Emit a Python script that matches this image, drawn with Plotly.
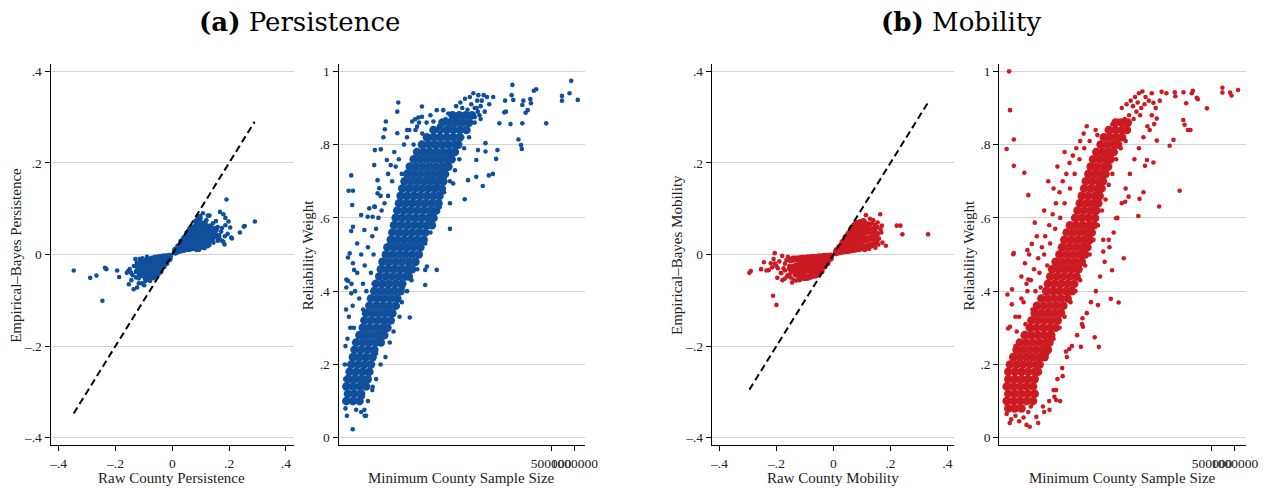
import plotly.graph_objects as go

BLUE = "#0f4f9c"
RED = "#cc1a22"
FONT = "Liberation Serif"
TITLE_FONT = "DejaVu Serif"

# ---------------- Panel (a) left: Raw vs Empirical-Bayes persistence ----------------
pers_core = [
    (0.010, 0.005), (0.012, 0.010), (0.020, 0.008), (0.022, 0.017), (0.030, 0.010), (0.031, 0.020),
    (0.033, 0.028), (0.040, 0.011), (0.041, 0.022), (0.043, 0.035), (0.050, 0.013), (0.051, 0.025),
    (0.052, 0.038), (0.055, 0.047), (0.060, 0.013), (0.061, 0.027), (0.062, 0.041), (0.064, 0.055),
    (0.070, 0.015), (0.071, 0.029), (0.072, 0.043), (0.074, 0.058), (0.080, 0.017), (0.081, 0.031),
    (0.082, 0.046), (0.083, 0.061), (0.086, 0.072), (0.090, 0.019), (0.091, 0.033), (0.092, 0.049),
    (0.093, 0.064), (0.095, 0.079), (0.100, 0.021), (0.101, 0.036), (0.102, 0.051), (0.103, 0.066),
    (0.110, 0.023), (0.111, 0.039), (0.112, 0.053), (0.113, 0.067), (0.120, 0.027), (0.121, 0.041),
    (0.122, 0.056), (0.130, 0.031), (0.131, 0.046), (0.132, 0.060), (0.140, 0.036), (0.142, 0.051),
    (0.150, 0.041), (0.152, 0.055),
    (-0.010, -0.004), (-0.011, -0.009), (-0.020, -0.005), (-0.021, -0.012), (-0.022, -0.018),
    (-0.030, -0.005), (-0.031, -0.015), (-0.032, -0.025), (-0.040, -0.006), (-0.041, -0.017),
    (-0.042, -0.028), (-0.043, -0.036), (-0.050, -0.007), (-0.051, -0.018), (-0.052, -0.030),
    (-0.053, -0.042), (-0.060, -0.008), (-0.061, -0.020), (-0.062, -0.032), (-0.063, -0.045),
    (-0.070, -0.010), (-0.071, -0.022), (-0.072, -0.034), (-0.073, -0.046), (-0.080, -0.012),
    (-0.081, -0.024), (-0.082, -0.036), (-0.083, -0.048), (-0.090, -0.014), (-0.091, -0.026),
    (-0.092, -0.038), (-0.093, -0.050), (-0.100, -0.016), (-0.101, -0.028), (-0.102, -0.040),
    (-0.110, -0.020), (-0.111, -0.032), (-0.112, -0.044), (-0.120, -0.025), (-0.121, -0.036),
]
pers_sparse = [
    (-0.347, -0.035), (-0.289, -0.051), (-0.267, -0.046), (-0.246, -0.101), (-0.237, -0.029),
    (-0.232, -0.032), (-0.194, -0.035), (-0.187, -0.049), (-0.155, -0.036), (-0.150, -0.032),
    (-0.153, -0.065), (-0.144, -0.056), (-0.136, -0.076), (-0.130, -0.010), (-0.124, -0.072),
    (-0.118, -0.063), (-0.107, -0.063), (-0.099, -0.067), (-0.089, -0.005), (-0.078, -0.058),
    (-0.072, -0.045), (-0.089, -0.034), (-0.140, -0.045), (-0.135, -0.025), (-0.128, -0.050),
    (-0.115, -0.010), (-0.105, -0.008), (-0.128, -0.038), (-0.145, -0.040), (-0.118, -0.052),
    (-0.095, -0.058), (-0.085, -0.055), (-0.065, -0.052), (-0.160, -0.040), (-0.125, -0.018),
    (0.191, 0.120), (0.168, 0.093), (0.180, 0.088), (0.187, 0.080), (0.198, 0.072), (0.204, 0.059),
    (0.187, 0.064), (0.252, 0.061), (0.238, 0.048), (0.208, 0.037), (0.184, 0.022), (0.180, 0.028),
    (0.154, 0.073), (0.131, 0.085), (0.108, 0.090), (0.137, 0.057), (0.152, 0.046), (0.166, 0.035),
    (0.143, 0.035), (0.131, 0.021), (0.085, 0.010), (0.114, 0.014), (0.291, 0.072), (0.210, 0.035),
    (0.255, 0.062), (0.125, 0.085), (0.143, 0.068), (0.154, 0.053), (0.160, 0.060), (0.172, 0.050),
    (0.165, 0.042), (0.175, 0.058), (0.120, 0.075), (0.098, 0.084), (0.094, 0.010), (0.160, 0.030),
    (0.145, 0.026), (0.195, 0.045), (0.185, 0.040), (0.175, 0.030), (0.105, 0.015), (0.125, 0.018),
]
pers_line = [-0.347, 0.290]

# ---------------- Panel (a) right: sample size vs reliability (persistence) ----------------
# dense band, read row by row: (reliability weight, [sample sizes])
pers_rel_rows = [
    (0.10, [1160, 1408, 1711]),
    (0.12, [1216, 1478, 1797]),
    (0.14, [1160, 1408, 1711, 2080]),
    (0.16, [1216, 1478, 1797, 2184]),
    (0.18, [1277, 1552, 1887, 2293]),
    (0.20, [1341, 1630, 1981, 2407]),
    (0.22, [1408, 1711, 2080, 2528]),
    (0.24, [1478, 1797, 2184, 2654]),
    (0.26, [1552, 1887, 2293, 2787, 3225]),
    (0.28, [1711, 2080, 2528, 3072, 3556]),
    (0.30, [1887, 2293, 2787, 3387, 3920]),
    (0.32, [1981, 2407, 2926, 3556, 4321]),
    (0.34, [2080, 2528, 3072, 3734, 4538]),
    (0.36, [2293, 2787, 3387, 4116, 5003]),
    (0.38, [2407, 2926, 3556, 4321, 5252]),
    (0.40, [2654, 3225, 3920, 4764, 5789]),
    (0.42, [2787, 3387, 4116, 5003, 6080]),
    (0.44, [3072, 3734, 4538, 5515, 6703, 7389]),
    (0.46, [3225, 3920, 4764, 5789, 7036, 8146]),
    (0.48, [3387, 4116, 5003, 6080, 7389, 8980]),
    (0.50, [3734, 4538, 5515, 6703, 8146, 9900]),
    (0.52, [3920, 4764, 5789, 7036, 8551, 10391]),
    (0.54, [4321, 5252, 6382, 7756, 9426, 11455]),
    (0.56, [4538, 5515, 6703, 8146, 9900, 12032]),
    (0.58, [4764, 5789, 7036, 8551, 10391, 12628, 14624]),
    (0.60, [5003, 6080, 7389, 8980, 10914, 13265, 15347]),
    (0.62, [5252, 6382, 7756, 9426, 11455, 13922, 16600]),
    (0.64, [5515, 6703, 8146, 9900, 12032, 14624, 17773]),
    (0.66, [5789, 7036, 8551, 10391, 12628, 15347, 18300]),
    (0.68, [6080, 7389, 8980, 10914, 13265, 16122, 19594]),
    (0.70, [6500, 7900, 9600, 11700, 14200, 17200, 20562]),
    (0.72, [7036, 8551, 10391, 12628, 15347, 18652, 21601]),
    (0.74, [7600, 9250, 11200, 13650, 16600, 20150, 23813]),
    (0.76, [8551, 10391, 12628, 15347, 18652, 22668, 26252]),
    (0.78, [9426, 11455, 13922, 16919, 20562, 24989, 28941]),
    (0.80, [10914, 13265, 16122, 19594, 23813, 28941, 31905]),
    (0.82, [12628, 15347, 18652, 22668, 27548, 33479]),
    (0.84, [15347, 18652, 22668, 27548, 33479, 40687]),
    (0.86, [20000, 24500, 29500, 36000, 44000]),
    (0.88, [27000, 33000, 40000, 48000]),
]
pers_rel_sparse = [
    (907000, 0.974), (863000, 0.940), (690000, 0.933), (690000, 0.920), (1100000, 0.922),
    (432000, 0.858), (321000, 0.951), (300000, 0.947), (270000, 0.924), (275000, 0.913),
    (220000, 0.920), (213000, 0.908), (250000, 0.894), (235000, 0.887), (213000, 0.858),
    (190000, 0.814), (205000, 0.799), (210000, 0.788), (163000, 0.922), (159000, 0.963),
    (155000, 0.935), (150000, 0.856), (128000, 0.920), (131000, 0.890), (125000, 0.888),
    (108000, 0.858), (102000, 0.785), (98000, 0.761), (89000, 0.720), (79000, 0.716),
    (66000, 0.687), (54500, 0.712), (38700, 0.651), (71600, 0.804), (71600, 0.781),
    (54500, 0.758), (57300, 0.785), (42700, 0.703), (27500, 0.694), (25000, 0.640),
    (25000, 0.570), (16900, 0.458), (12000, 0.458), (12000, 0.417), (12600, 0.467),
    (7600, 0.328), (5400, 0.915), (5250, 0.890), (3740, 0.863), (3630, 0.842), (3480, 0.820),
    (3225, 0.787), (2700, 0.785), (2650, 0.744), (1341, 0.716), (1240, 0.674), (1410, 0.674),
    (1380, 0.635), (1410, 0.576), (1341, 0.564), (1216, 0.492), (1280, 0.503), (1410, 0.476),
    (1460, 0.458), (1160, 0.432), (1220, 0.428), (1160, 0.410), (1341, 0.394), (1600, 0.530),
    (1797, 0.608), (1981, 0.567), (2184, 0.603), (2290, 0.626), (2926, 0.703), (3070, 0.681),
    (2926, 0.667), (2654, 0.631), (2530, 0.603), (3850, 0.758), (4321, 0.744), (5250, 0.831),
    (7036, 0.840), (8150, 0.863), (8900, 0.869), (10900, 0.904), (9426, 0.849), (10900, 0.876),
    (9800, 0.874), (15300, 0.863), (16900, 0.894), (20500, 0.894), (23800, 0.885),
    (1400, 0.023), (1981, 0.076), (2080, 0.060), (2530, 0.139), (1550, 0.076), (1890, 0.112),
    (1300, 0.300), (1250, 0.330), (1400, 0.360), (1500, 0.400), (1350, 0.420), (1700, 0.380),
    (1600, 0.450), (1900, 0.420), (2000, 0.470), (1800, 0.500), (2200, 0.520), (2400, 0.450),
    (2100, 0.400), (2600, 0.500), (2500, 0.550), (2800, 0.570), (3000, 0.600), (3300, 0.620),
    (2700, 0.630), (3600, 0.640), (4000, 0.660), (3200, 0.660), (4500, 0.700), (4000, 0.720),
    (5000, 0.740), (5500, 0.760), (6000, 0.720), (4800, 0.780), (6400, 0.800), (7000, 0.820),
    (7500, 0.840), (8500, 0.800), (9000, 0.840), (10000, 0.860), (11000, 0.830), (12500, 0.860),
    (14000, 0.880), (1200, 0.270), (1450, 0.300), (1150, 0.350), (1700, 0.280), (1900, 0.350),
    (2300, 0.360), (2600, 0.420), (2200, 0.100), (2500, 0.130), (2800, 0.160), (3200, 0.200),
    (3700, 0.220), (4200, 0.260), (4700, 0.290), (5600, 0.330), (6000, 0.370), (7000, 0.400),
    (8000, 0.430), (9500, 0.460), (10500, 0.500), (12000, 0.530), (14000, 0.560), (16000, 0.600),
    (18500, 0.630), (21000, 0.670), (25000, 0.700), (29000, 0.730), (33000, 0.760), (38000, 0.790),
    (44000, 0.820), (52000, 0.860), (60000, 0.880), (70000, 0.890), (80000, 0.910), (90000, 0.930),
    (1800, 0.070), (2000, 0.060), (1130, 0.080), (1180, 0.060), (1550, 0.100), (1900, 0.150),
    (2400, 0.180), (1120, 0.160), (1110, 0.200), (1130, 0.250), (2800, 0.230), (3300, 0.260),
    (3900, 0.300), (4600, 0.340), (5300, 0.360), (6200, 0.410), (6900, 0.460), (8200, 0.500),
    (9200, 0.540), (11000, 0.580), (12600, 0.600), (14500, 0.640), (17000, 0.690), (19600, 0.700),
    (22000, 0.740), (24000, 0.780), (26500, 0.800), (30000, 0.800), (36000, 0.820), (40000, 0.840),
    (48000, 0.880), (55000, 0.900), (64000, 0.920), (75000, 0.930), (62000, 0.870),
    (30000, 0.905), (34000, 0.915), (39000, 0.925), (45000, 0.930), (50000, 0.940), (56000, 0.920),
    (62000, 0.905), (68000, 0.935), (42000, 0.895), (47000, 0.910), (52000, 0.900), (58000, 0.935),
    (36000, 0.900), (26000, 0.880), (31000, 0.870), (38000, 0.875), (44000, 0.880), (22000, 0.870),
    (18000, 0.850), (52000, 0.875), (57000, 0.890),
]

# ---------------- Panel (b) left: Raw vs Empirical-Bayes mobility ----------------
mob_core = [
    (0.010, 0.004), (0.012, 0.009), (0.020, 0.006), (0.022, 0.016), (0.030, 0.007), (0.031, 0.016),
    (0.033, 0.026), (0.040, 0.008), (0.041, 0.018), (0.042, 0.030), (0.044, 0.037), (0.050, 0.009),
    (0.051, 0.020), (0.052, 0.032), (0.054, 0.045), (0.060, 0.010), (0.061, 0.022), (0.062, 0.035),
    (0.063, 0.050), (0.065, 0.057), (0.070, 0.011), (0.071, 0.024), (0.072, 0.038), (0.073, 0.052),
    (0.075, 0.064), (0.080, 0.012), (0.081, 0.026), (0.082, 0.040), (0.083, 0.055), (0.085, 0.068),
    (0.090, 0.013), (0.091, 0.028), (0.092, 0.042), (0.093, 0.056), (0.095, 0.070), (0.100, 0.015),
    (0.101, 0.030), (0.102, 0.045), (0.103, 0.060), (0.105, 0.072), (0.110, 0.016), (0.111, 0.032),
    (0.112, 0.048), (0.113, 0.062), (0.120, 0.018), (0.121, 0.034), (0.122, 0.050), (0.123, 0.065),
    (0.130, 0.020), (0.131, 0.036), (0.132, 0.052), (0.140, 0.022), (0.141, 0.040), (0.142, 0.055),
    (0.150, 0.030), (0.151, 0.045),
    (-0.010, -0.003), (-0.011, -0.008), (-0.020, -0.004), (-0.021, -0.012), (-0.022, -0.018),
    (-0.030, -0.004), (-0.031, -0.014), (-0.032, -0.025), (-0.040, -0.005), (-0.041, -0.016),
    (-0.042, -0.028), (-0.043, -0.036), (-0.050, -0.005), (-0.051, -0.017), (-0.052, -0.030),
    (-0.053, -0.042), (-0.060, -0.006), (-0.061, -0.018), (-0.062, -0.030), (-0.063, -0.045),
    (-0.070, -0.006), (-0.071, -0.018), (-0.072, -0.032), (-0.073, -0.046), (-0.080, -0.007),
    (-0.081, -0.020), (-0.082, -0.033), (-0.083, -0.048), (-0.090, -0.007), (-0.091, -0.020),
    (-0.092, -0.034), (-0.093, -0.050), (-0.100, -0.008), (-0.101, -0.022), (-0.102, -0.036),
    (-0.103, -0.050), (-0.110, -0.008), (-0.111, -0.022), (-0.112, -0.036), (-0.113, -0.050),
    (-0.120, -0.009), (-0.121, -0.024), (-0.122, -0.038), (-0.130, -0.010), (-0.131, -0.025),
    (-0.132, -0.040), (-0.140, -0.010), (-0.141, -0.028), (-0.150, -0.012), (-0.151, -0.030),
]
mob_sparse = [
    (-0.295, -0.040), (-0.290, -0.036), (-0.254, -0.032), (-0.244, -0.017), (-0.235, -0.035),
    (-0.227, -0.034), (-0.212, -0.090), (-0.200, -0.110), (-0.220, -0.019), (-0.206, 0.003),
    (-0.197, -0.051), (-0.179, -0.056), (-0.183, -0.041), (-0.171, -0.053), (-0.163, -0.048),
    (-0.145, -0.061), (-0.131, -0.057), (-0.119, -0.056), (-0.108, -0.048), (-0.180, -0.003),
    (-0.190, -0.015), (-0.200, -0.025), (-0.170, -0.020), (-0.160, -0.045), (-0.150, -0.040),
    (-0.140, -0.055), (-0.175, -0.030), (-0.165, -0.012), (-0.155, -0.025), (-0.185, -0.040),
    (-0.210, -0.010), (-0.205, -0.020), (-0.160, -0.005), (-0.170, -0.035), (-0.195, -0.030),
    (-0.215, -0.028), (-0.150, -0.050), (-0.125, -0.048), (-0.135, -0.045),
    (0.164, 0.088), (0.114, 0.086), (0.222, 0.063), (0.235, 0.063), (0.242, 0.044), (0.332, 0.044),
    (0.184, 0.019), (0.172, 0.026), (0.147, 0.015), (0.168, 0.048), (0.170, 0.063), (0.155, 0.070),
    (0.140, 0.075), (0.128, 0.078), (0.160, 0.035), (0.165, 0.055), (0.155, 0.060), (0.125, 0.012),
    (0.110, 0.010), (0.158, 0.022), (0.145, 0.065), (0.135, 0.068),
]
mob_line = [-0.295, 0.334]

# ---------------- Panel (b) right: sample size vs reliability (mobility) ----------------
mob_rel_rows = [
    (0.08, [1006, 1230, 1504]),
    (0.10, [957, 1170, 1430, 1749, 2138]),
    (0.12, [1006, 1230, 1504, 1839, 2248]),
    (0.14, [957, 1170, 1430, 1749, 2138]),
    (0.16, [1006, 1230, 1504, 1839, 2248]),
    (0.18, [1006, 1230, 1504, 1839, 2248, 2486]),
    (0.20, [1058, 1293, 1581, 1933, 2364, 2614]),
    (0.22, [1170, 1430, 1749, 2138, 2614, 3039]),
    (0.24, [1293, 1581, 1933, 2364, 2890, 3361]),
    (0.26, [1430, 1749, 2138, 2614, 3196, 3533]),
    (0.28, [1662, 2033, 2486, 3039, 3715]),
    (0.30, [1933, 2364, 2890, 3533, 4250]),
    (0.32, [2033, 2486, 3039, 3715, 4543]),
    (0.34, [2248, 2749, 3361, 4108, 5023]),
    (0.36, [2410, 2950, 3610, 4410, 5390]),
    (0.38, [2749, 3361, 4108, 5023, 6141]),
    (0.40, [3196, 3907, 4777, 5840, 7000]),
    (0.42, [3361, 4108, 5023, 6141, 7508]),
    (0.44, [3610, 4410, 5390, 6590, 8050]),
    (0.46, [3830, 4680, 5720, 7000, 8560]),
    (0.48, [4250, 5170, 6330, 7730, 9440]),
    (0.50, [4777, 5840, 7140, 8729, 10460]),
    (0.52, [5170, 6330, 7730, 9440, 11222]),
    (0.54, [5554, 6790, 8301, 10149, 12050]),
    (0.56, [5960, 7290, 8910, 10890, 12780]),
    (0.58, [6590, 8050, 9850, 12050, 13719]),
    (0.60, [7730, 9440, 11560, 14140]),
    (0.62, [8301, 10149, 12408, 14720]),
    (0.64, [8910, 10890, 13330, 15630]),
    (0.66, [9440, 11560, 14140, 16290]),
    (0.68, [10149, 12408, 15170, 17280]),
    (0.70, [10672, 13047, 15951, 18000]),
    (0.72, [11560, 14140, 17280, 19501]),
    (0.74, [12408, 15170, 18546, 21110]),
    (0.76, [13330, 16290, 19920, 22673]),
    (0.78, [14720, 18000, 22020, 25070]),
    (0.80, [16773, 20505, 25070, 28500]),
    (0.82, [18546, 22673, 27720, 32230]),
    (0.84, [21563, 26362, 32230, 37470]),
    (0.86, [26500, 32000, 38500]),
]
mob_rel_sparse = [
    (1030, 1.000), (1060, 0.894), (1190, 0.814), (957, 0.788), (1190, 0.742), (1640, 0.723),
    (1850, 0.662), (2250, 0.587), (1170, 0.501), (1190, 0.504), (1800, 0.512), (2060, 0.529),
    (1670, 0.476), (1850, 0.432), (1130, 0.405), (980, 0.391), (1120, 0.364), (1000, 0.298),
    (1060, 0.303), (690000, 0.955), (690000, 0.942), (870000, 0.942), (910000, 0.934),
    (1110000, 0.949), (430000, 0.899), (315000, 0.928), (325000, 0.924), (270000, 0.940),
    (280000, 0.947), (210000, 0.943), (228000, 0.913), (209000, 0.867), (217000, 0.854),
    (240000, 0.840), (260000, 0.840), (187000, 0.674), (155000, 0.813), (138000, 0.797),
    (164000, 0.932), (161000, 0.943), (125000, 0.940), (108000, 0.944), (102000, 0.920),
    (84000, 0.914), (93000, 0.871), (93000, 0.811), (86000, 0.856), (75000, 0.840), (84000, 0.751),
    (69000, 0.758), (65000, 0.742), (62000, 0.670), (55000, 0.652), (53000, 0.605), (100000, 0.631),
    (39400, 0.658), (35600, 0.644), (34000, 0.490), (26900, 0.599), (23800, 0.457), (29100, 0.369),
    (22900, 0.379), (15500, 0.362), (15900, 0.248), (18200, 0.540), (18200, 0.508), (21500, 0.540),
    (14000, 0.274), (9800, 0.303), (9650, 0.326), (9200, 0.248), (6460, 0.242), (5840, 0.235),
    (5280, 0.168), (4890, 0.100), (4320, 0.130), (4100, 0.112),
    (1400, 0.330), (1600, 0.370), (1800, 0.400), (2000, 0.430), (2200, 0.460), (2500, 0.490),
    (2800, 0.520), (3100, 0.550), (3500, 0.580), (3900, 0.610), (4300, 0.640), (4800, 0.670),
    (5300, 0.700), (5900, 0.720), (6500, 0.750), (7200, 0.770), (8000, 0.790), (9000, 0.810),
    (10000, 0.830), (11000, 0.850), (3000, 0.620), (4000, 0.680), (3400, 0.700), (4500, 0.740),
    (5600, 0.780), (2400, 0.550), (1900, 0.500), (1500, 0.440), (1300, 0.290), (1250, 0.250),
    (2100, 0.350), (2700, 0.410), (3300, 0.470), (1700, 0.310), (14400, 0.840), (15200, 0.826),
    (2500, 0.040), (3000, 0.070), (3500, 0.100), (4000, 0.130), (4500, 0.160), (5200, 0.190),
    (6000, 0.220), (7000, 0.250), (8200, 0.280), (9500, 0.310), (11000, 0.340), (12500, 0.370),
    (14500, 0.400), (16500, 0.440), (19000, 0.480), (22000, 0.520), (25000, 0.560), (28000, 0.600),
    (32000, 0.640), (36000, 0.680), (41000, 0.720), (47000, 0.760), (54000, 0.790), (62000, 0.820),
    (70000, 0.850), (80000, 0.880), (90000, 0.900), (2364, 0.057), (1933, 0.030), (2890, 0.085),
    (3533, 0.076), (4320, 0.103), (2700, 0.200), (3300, 0.230), (4000, 0.270), (4800, 0.300),
    (5600, 0.330), (6700, 0.370), (7800, 0.400), (9000, 0.430), (10500, 0.470), (12000, 0.500),
    (13500, 0.540), (15500, 0.580), (17500, 0.620), (19500, 0.650), (21500, 0.690), (24000, 0.720),
    (27000, 0.760), (31000, 0.790), (36000, 0.810), (1250, 0.330), (1500, 0.380), (1750, 0.420),
    (2300, 0.400), (2600, 0.450), (3000, 0.500), (3600, 0.530), (4200, 0.570), (4900, 0.600),
    (5600, 0.640), (6600, 0.680), (7600, 0.720), (8800, 0.760), (10200, 0.790), (12000, 0.810),
    (957, 0.065), (1100, 0.050), (1250, 0.060), (1400, 0.045), (1600, 0.055), (1750, 0.035),
    (1050, 0.040), (1850, 0.070), (2000, 0.085), (1180, 0.075),
    (32000, 0.900), (37000, 0.910), (42000, 0.920), (48000, 0.930), (54000, 0.940), (60000, 0.945),
    (66000, 0.930), (73000, 0.920), (80000, 0.940), (45000, 0.905), (52000, 0.915), (58000, 0.900),
    (64000, 0.910), (40000, 0.880), (46000, 0.870), (35000, 0.870), (29000, 0.865), (50000, 0.890),
    (56000, 0.880), (24000, 0.855),
]

ev_ticks = [-0.4, -0.2, 0, 0.2, 0.4]
ev_ticktext = ["\u2013.4", "\u2013.2", "0", ".2", ".4"]
rel_ticks = [0, 0.2, 0.4, 0.6, 0.8, 1]
rel_ticktext = ["0", ".2", ".4", ".6", ".8", "1"]
size_ticks = [500000, 1000000]
size_ticktext = ["500000", "1000000"]


def unzip(pts):
    return [p[0] for p in pts], [p[1] for p in pts]


def flatten_rows(rows):
    xs, ys = [], []
    for yv, xlist in rows:
        for xv in xlist:
            xs.append(xv)
            ys.append(yv)
    return xs, ys


fig = go.Figure()

SPARSE = 4.6

panels = [
    ("x", "y", unzip(pers_core), pers_sparse, BLUE, 7),
    ("x2", "y2", flatten_rows(pers_rel_rows), pers_rel_sparse, BLUE, 8.6),
    ("x3", "y3", unzip(mob_core), mob_sparse, RED, 7),
    ("x4", "y4", flatten_rows(mob_rel_rows), mob_rel_sparse, RED, 8.6),
]
for xa, ya, (cx, cy), sparse, col, csize in panels:
    sx, sy = unzip(sparse)
    fig.add_trace(go.Scatter(x=cx, y=cy, xaxis=xa, yaxis=ya, mode="markers",
                             marker=dict(color=col, size=csize, line=dict(width=0)),
                             showlegend=False, hoverinfo="skip"))
    fig.add_trace(go.Scatter(x=sx, y=sy, xaxis=xa, yaxis=ya, mode="markers",
                             marker=dict(color=col, size=SPARSE, line=dict(width=0)),
                             showlegend=False, hoverinfo="skip"))

for xa, ya, ln in [("x", "y", pers_line), ("x3", "y3", mob_line)]:
    fig.add_trace(go.Scatter(x=ln, y=ln, xaxis=xa, yaxis=ya, mode="lines",
                             line=dict(color="black", width=2, dash="7px,4px"),
                             showlegend=False, hoverinfo="skip"))

W, H = 1276, 489


def px_x(p):
    return p / W


def px_y(p):
    return 1 - p / H


ydom = [px_y(445.3), px_y(64)]
tickfont = dict(family=FONT, size=13.5, color="#222222")
common_x = dict(showline=True, linecolor="black", linewidth=1.3, ticks="outside", ticklen=5,
                tickwidth=1, tickcolor="black", showgrid=False, zeroline=False, tickfont=tickfont,
                tickangle=0)
common_y = dict(showline=True, linecolor="black", linewidth=1.3, ticks="outside", ticklen=5,
                tickwidth=1, tickcolor="black", showgrid=True, gridcolor="#d4d4d4", gridwidth=1,
                zeroline=False, tickfont=tickfont)

fig.update_layout(
    width=W, height=H,
    margin=dict(l=0, r=0, t=0, b=0),
    paper_bgcolor="white", plot_bgcolor="white",
    font=dict(family=FONT, color="#222222"),
    xaxis=dict(domain=[px_x(49.3), px_x(295)], range=[-0.428, 0.427], anchor="y",
               tickvals=ev_ticks, ticktext=ev_ticktext, **common_x),
    yaxis=dict(domain=ydom, range=[-0.4166, 0.416], anchor="x",
               tickvals=ev_ticks, ticktext=ev_ticktext, **common_y),
    xaxis2=dict(domain=[px_x(340.7), px_x(590)], type="log", range=[2.966, 6.136], anchor="y2",
                tickvals=size_ticks, ticktext=size_ticktext, **common_x),
    yaxis2=dict(domain=ydom, range=[-0.0207, 1.02], anchor="x2",
                tickvals=rel_ticks, ticktext=rel_ticktext, **common_y),
    xaxis3=dict(domain=[px_x(718.3), px_x(963.3)], range=[-0.4267, 0.423], anchor="y3",
                tickvals=ev_ticks, ticktext=ev_ticktext, **common_x),
    yaxis3=dict(domain=ydom, range=[-0.4166, 0.416], anchor="x3",
                tickvals=ev_ticks, ticktext=ev_ticktext, **common_y),
    xaxis4=dict(domain=[px_x(1009.3), px_x(1259)], type="log", range=[2.885, 6.153], anchor="y4",
                tickvals=size_ticks, ticktext=size_ticktext, **common_x),
    yaxis4=dict(domain=ydom, range=[-0.0207, 1.02], anchor="x4",
                tickvals=rel_ticks, ticktext=rel_ticktext, **common_y),
)

annots = []
annots.append(dict(text="<b>(a)</b> Persistence", x=px_x(301), y=px_y(22), xref="paper", yref="paper",
                   showarrow=False, font=dict(family=TITLE_FONT, size=26, color="black"),
                   xanchor="center", yanchor="middle"))
annots.append(dict(text="<b>(b)</b> Mobility", x=px_x(970), y=px_y(22), xref="paper", yref="paper",
                   showarrow=False, font=dict(family=TITLE_FONT, size=26, color="black"),
                   xanchor="center", yanchor="middle"))
for txt, cx in [("Raw County Persistence", 172), ("Minimum County Sample Size", 465),
                ("Raw County Mobility", 840.5), ("Minimum County Sample Size", 1134)]:
    annots.append(dict(text=txt, x=px_x(cx), y=px_y(478), xref="paper", yref="paper",
                       showarrow=False, font=dict(family=FONT, size=15, color="#222222"),
                       xanchor="center", yanchor="middle"))
for txt, cx in [("Empirical\u2013Bayes Persistence", 14), ("Reliability Weight", 310),
                ("Empirical\u2013Bayes Mobility", 683), ("Reliability Weight", 979)]:
    annots.append(dict(text=txt, x=px_x(cx), y=px_y(255), xref="paper", yref="paper",
                       showarrow=False, textangle=-90, font=dict(family=FONT, size=15, color="#222222"),
                       xanchor="center", yanchor="middle"))
fig.update_layout(annotations=annots)

fig.write_html("out.html", config={"displayModeBar": False},
               post_script="document.body.style.margin='0px';document.body.style.padding='0px';")
